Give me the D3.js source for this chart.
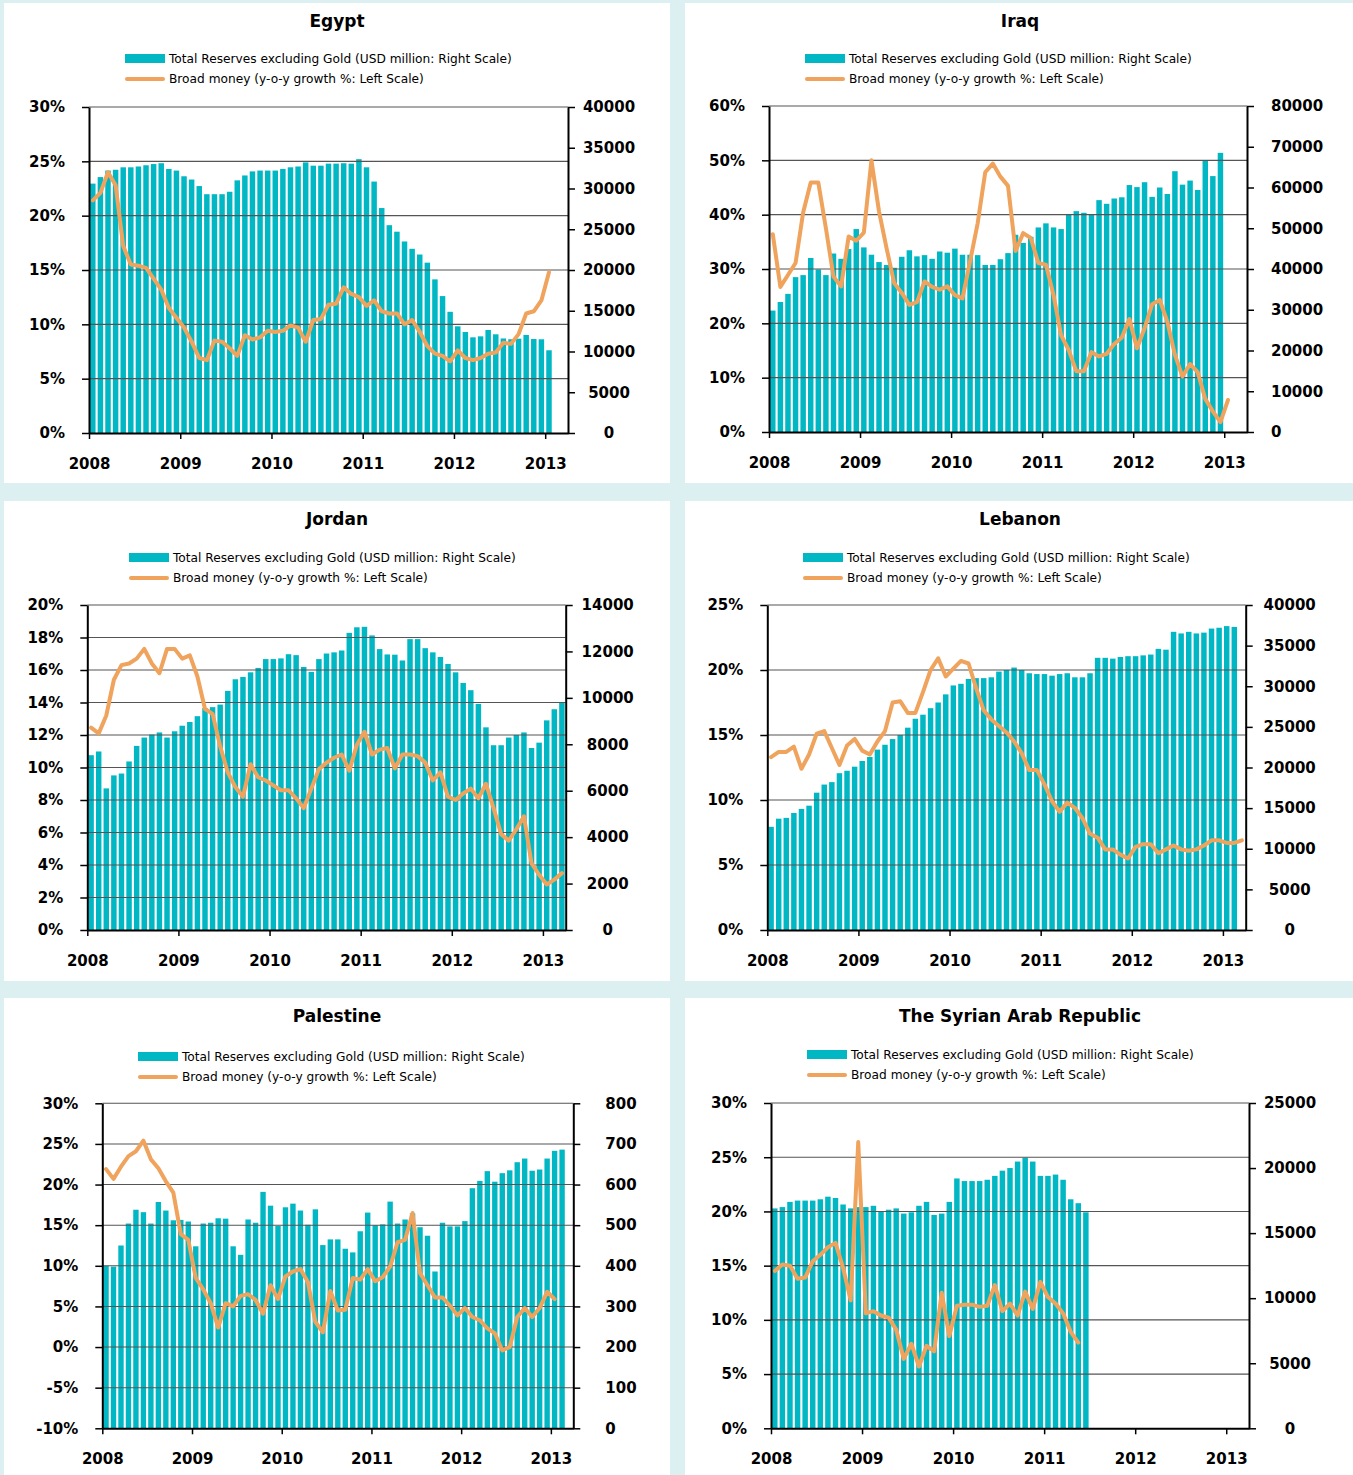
<!DOCTYPE html>
<html>
<head>
<meta charset="utf-8">
<script src="https://cdn.jsdelivr.net/npm/d3@7"></script>
<style>
  body { margin: 0; background: #dcf0f2; }
  svg { display: block; }
  text { font-family: "DejaVu Sans", sans-serif; fill: #000; }
  .title { font-size: 17px; font-weight: bold; }
  .leg { font-size: 12.2px; }
  .axis text { font-size: 15px; font-weight: bold; fill: #000; }
  .axis path { stroke: #000; stroke-width: 2; }
  .axis line { stroke: #000; stroke-width: 1.5; }
</style>
</head>
<body>
<script>
// Dataset (monthly, Jan 2008 onwards)
var years = ['2008', '2009', '2010', '2011', '2012', '2013'];
var countries = ['Egypt', 'Iraq', 'Jordan', 'Lebanon', 'Palestine', 'The Syrian Arab Republic'];
var legendNames = ['Total Reserves excluding Gold (USD million: Right Scale)', 'Broad money (y-o-y growth %: Left Scale)'];

var egyptReserves = [30600,31400,32200,32300,32600,32600,32700,32850,33000,33100,32400,32200,
  31500,31100,30300,29300,29300,29300,29600,31000,31600,32100,32200,32200,
  32200,32400,32600,32700,33200,32800,32800,33050,33050,33100,33050,33600,
  32600,30850,27600,25500,24700,23500,22600,21900,20900,18850,16800,14870,
  13090,12390,11740,11860,12640,12110,11600,11500,11570,12030,11530,11500,
  10150];
var egyptMoney = [21.4,22.1,24.0,22.8,17.2,15.5,15.4,15.2,14.2,13.2,11.5,10.6,
  9.7,8.4,6.9,6.7,8.5,8.4,7.8,7.1,9.0,8.6,8.8,9.4,
  9.3,9.4,9.9,9.7,8.4,10.4,10.5,11.8,11.9,13.4,12.8,12.5,
  11.7,12.2,11.2,11.0,11.0,10.0,10.4,9.3,8.0,7.3,7.1,6.6,
  7.6,6.9,6.7,6.9,7.3,7.4,8.3,8.2,9.1,11.0,11.2,12.2,
  14.8];

var iraqReserves = [29800,31900,33900,38000,38500,42700,39900,38500,43800,42500,44900,49800,
  45300,43500,41700,41000,40300,43000,44600,43100,43400,42500,44300,44000,
  45000,43500,43500,43400,41000,41000,42400,43900,48400,46400,47900,50200,
  51200,50200,49800,53500,54200,53800,53300,56900,56000,57300,57600,60600,
  60100,61300,57700,60000,58400,64000,60700,61700,59400,66600,62800,68500];
var iraqMoney = [36.4,26.7,28.9,31.1,40.4,45.9,45.9,37.5,28.6,26.8,36.0,35.2,
  36.7,50.0,40.6,33.8,27.4,25.6,23.4,23.9,27.7,26.7,26.2,26.8,
  25.2,24.6,31.4,38.4,47.8,49.4,47.0,45.3,33.3,36.6,35.7,31.1,
  30.8,25.2,17.8,15.1,11.2,11.2,14.7,13.9,14.4,16.2,17.4,20.8,
  15.4,19.1,23.5,24.3,20.3,14.2,10.2,12.5,11.0,6.1,3.8,1.8,
  5.9];

var jordanReserves = [7530,7690,6100,6660,6740,7260,7930,8290,8420,8510,8290,8560,
  8800,8960,9210,9560,9600,9710,10300,10800,10900,11100,11290,11670,
  11670,11700,11880,11840,11330,11120,11670,11910,11960,12040,12800,13040,
  13060,12690,12100,11870,11860,11610,12530,12530,12140,11960,11760,11460,
  11100,10640,10330,9740,8730,7960,7960,8290,8400,8510,7840,8070,
  9030,9510,9810];
var jordanMoney = [12.45,12.1,13.2,15.4,16.3,16.4,16.7,17.3,16.4,15.8,17.3,17.3,
  16.7,16.9,15.6,13.6,13.3,11.3,9.7,8.8,8.2,10.2,9.4,9.2,
  8.9,8.6,8.6,8.1,7.5,8.7,9.9,10.3,10.6,10.8,9.8,11.4,
  12.2,10.8,11.1,11.2,9.95,10.8,10.8,10.7,10.3,9.2,9.7,8.2,
  8.0,8.4,8.7,8.1,9.0,7.5,5.9,5.5,6.2,7.0,4.1,3.4,
  2.8,3.1,3.5];

var lebanonReserves = [12700,13700,13800,14400,14900,15300,16900,17900,18200,19300,19600,20100,
  20800,21300,22200,22800,23500,24000,24900,26000,26500,27300,28000,29000,
  30100,30300,30900,31000,31000,31100,31800,32000,32300,32000,31600,31500,
  31500,31300,31500,31600,31100,31100,31600,33500,33500,33400,33600,33700,
  33700,33800,33900,34600,34500,36700,36500,36700,36500,36600,37100,37200,
  37400,37300];
var lebanonMoney = [13.3,13.7,13.7,14.1,12.4,13.5,15.1,15.3,14.0,12.7,14.2,14.7,
  13.8,13.5,14.5,15.3,17.5,17.6,16.7,16.7,18.3,20.0,20.9,19.5,
  20.1,20.7,20.5,18.6,16.9,16.2,15.7,15.2,14.5,13.6,12.3,12.3,
  11.2,9.9,9.1,9.8,9.4,8.6,7.4,7.1,6.2,6.2,5.8,5.5,
  6.4,6.6,6.6,5.9,6.2,6.5,6.2,6.1,6.2,6.5,6.9,6.9,
  6.7,6.7,6.9];

var palestineReserves = [400,398,450,504,538,532,504,557,536,512,513,509,
  448,504,506,517,516,448,427,514,506,582,548,498,
  544,553,536,501,539,451,465,465,442,433,485,531,
  500,502,558,504,514,529,495,474,386,506,497,497,
  510,591,609,633,607,628,635,655,664,634,637,664,
  683,686];
var palestineMoney = [21.9,20.7,22.2,23.5,24.1,25.4,23.1,22.0,20.4,19.0,13.9,13.2,
  8.5,7.1,5.4,2.4,5.4,5.0,6.3,6.5,5.8,4.1,7.6,5.9,
  8.7,9.3,9.6,8.0,3.1,1.8,6.9,4.5,4.6,8.5,8.3,9.6,
  8.1,8.6,9.9,12.9,13.2,16.5,9.1,7.6,6.1,6.1,5.1,3.9,
  4.8,3.7,3.3,2.3,1.7,-0.4,0.0,3.7,4.8,3.7,4.8,6.8,
  5.9];

var syriaReserves = [16900,17000,17400,17500,17500,17500,17600,17800,17700,17200,16900,17000,
  17000,17100,16700,16800,16900,16500,16600,17100,17400,16400,16500,17400,
  19200,19000,19000,19000,19100,19400,19800,20000,20500,20800,20500,19400,
  19400,19500,19100,17600,17300,16600];
var syriaMoney = [14.5,15.1,15.0,13.8,13.9,15.4,16.0,16.7,17.1,14.8,11.8,26.4,
  10.6,10.8,10.4,10.2,9.1,6.4,7.8,5.7,7.6,7.1,12.5,8.5,
  11.3,11.4,11.4,11.2,11.3,13.2,10.8,11.5,10.4,12.6,11.0,13.5,
  12.1,11.5,10.6,8.9,7.9];

// Axis ranges [min, max, step]
var pctScales = [[0, 30, 5], [0, 60, 10], [0, 20, 2], [0, 25, 5], [-10, 30, 5], [0, 30, 5]];
var usdScales = [[0, 40000, 5000], [0, 80000, 10000], [0, 14000, 2000], [0, 40000, 5000], [0, 800, 100], [0, 25000, 5000]];

var reserves = [egyptReserves, iraqReserves, jordanReserves, lebanonReserves, palestineReserves, syriaReserves];
var money = [egyptMoney, iraqMoney, jordanMoney, lebanonMoney, palestineMoney, syriaMoney];

var monthSlots = 63; // Jan 2008 - Mar 2013 on the x axis
var BAR = '#00b7c3', LINE = '#efa35c';

// Layout of each panel: box, plot area (panel coords), legend origin, right label placement
var layout = [
  {x: 4,   y: 3,   w: 666, h: 480, plot: [85, 104, 564, 430],   legend: [121, 55.5], rAnchor: 'middle', rOff: 41},
  {x: 685, y: 3,   w: 670, h: 480, plot: [84, 103, 562, 429],   legend: [120, 55.5], rAnchor: 'start',  rOff: 24},
  {x: 4,   y: 501, w: 666, h: 480, plot: [83.3, 104, 561.7, 429], legend: [125, 56.5], rAnchor: 'middle', rOff: 42},
  {x: 685, y: 501, w: 670, h: 480, plot: [82.3, 104, 560.7, 429], legend: [118, 56.5], rAnchor: 'middle', rOff: 44},
  {x: 4,   y: 998, w: 666, h: 480, plot: [98.3, 105.3, 569.3, 430.3], legend: [134, 58.5], rAnchor: 'start', rOff: 32},
  {x: 685, y: 998, w: 670, h: 480, plot: [86, 105, 564, 430.3], legend: [122, 56.5], rAnchor: 'middle', rOff: 41}
];

var svg = d3.select('body').append('svg')
  .attr('width', 1353)
  .attr('height', 1475);

svg.append('rect').attr('width', 1353).attr('height', 1475).attr('fill', '#dcf0f2');

function drawPanel(k) {
  var p = layout[k];
  var g = svg.append('g').attr('transform', 'translate(' + p.x + ',' + p.y + ')');
  g.append('rect').attr('width', p.w).attr('height', p.h).attr('fill', '#fff');

  g.append('text').attr('class', 'title')
    .attr('x', p.w / 2).attr('y', 24)
    .attr('text-anchor', 'middle')
    .text(countries[k]);

  // Legend
  var lg = g.append('g').attr('transform', 'translate(' + p.legend[0] + ',' + p.legend[1] + ')');
  lg.append('rect').attr('x', 0).attr('y', -4.5).attr('width', 40).attr('height', 9).attr('fill', BAR);
  lg.append('text').attr('class', 'leg').attr('x', 44).attr('y', 4.4).text(legendNames[0]);
  lg.append('line').attr('x1', 2).attr('x2', 38).attr('y1', 20.5).attr('y2', 20.5)
    .attr('stroke', LINE).attr('stroke-width', 4).attr('stroke-linecap', 'round');
  lg.append('text').attr('class', 'leg').attr('x', 44).attr('y', 24.9).text(legendNames[1]);

  var L = p.plot[0], T = p.plot[1], R = p.plot[2], B = p.plot[3];
  var pct = pctScales[k], usd = usdScales[k];

  var x = d3.scaleLinear().domain([0, monthSlots]).range([L, R]);
  var yL = d3.scaleLinear().domain([pct[0], pct[1]]).range([B, T]);
  var yR = d3.scaleLinear().domain([usd[0], usd[1]]).range([B, T]);

  var pctTicks = d3.range(pct[0], pct[1] + pct[2] / 2, pct[2]);
  var usdTicks = d3.range(usd[0], usd[1] + usd[2] / 2, usd[2]);

  // Bars
  var bw = (x(1) - x(0)) * 0.72;
  g.append('g').selectAll('rect')
    .data(reserves[k])
    .enter()
    .append('rect')
    .attr('x', function (d, i) { return x(i + 0.5) - bw / 2; })
    .attr('y', function (d) { return yR(d); })
    .attr('width', bw)
    .attr('height', function (d) { return B - yR(d); })
    .attr('fill', BAR);

  // Gridlines (on left scale)
  g.append('g').selectAll('line')
    .data(pctTicks.slice(1))
    .enter()
    .append('line')
    .attr('x1', L).attr('x2', R)
    .attr('y1', function (d) { return yL(d); })
    .attr('y2', function (d) { return yL(d); })
    .attr('stroke', '#555')
    .attr('stroke-width', 1.1);

  // Broad money line
  var line = d3.line()
    .x(function (d, i) { return x(i + 0.5); })
    .y(function (d) { return yL(d); });
  g.append('path').datum(money[k])
    .attr('d', line)
    .attr('fill', 'none')
    .attr('stroke', LINE)
    .attr('stroke-width', 4)
    .attr('stroke-linejoin', 'round')
    .attr('stroke-linecap', 'round');

  // Axes
  g.append('g').attr('class', 'axis')
    .attr('transform', 'translate(' + L + ',0)')
    .call(d3.axisLeft(yL).tickValues(pctTicks).tickSize(7).tickSizeOuter(0).tickPadding(17)
      .tickFormat(function (d) { return d + '%'; }));

  var ra = g.append('g').attr('class', 'axis')
    .attr('transform', 'translate(' + R + ',0)')
    .call(d3.axisRight(yR).tickValues(usdTicks).tickSize(7).tickSizeOuter(0)
      .tickFormat(d3.format('d')));
  ra.selectAll('text').attr('text-anchor', p.rAnchor).attr('x', p.rOff);

  g.append('g').attr('class', 'axis')
    .attr('transform', 'translate(0,' + B + ')')
    .call(d3.axisBottom(x).tickValues(d3.range(0, 61, 12)).tickSize(6).tickSizeOuter(0).tickPadding(19)
      .tickFormat(function (d, i) { return years[i]; }));
}

countries.forEach(function (c, k) { drawPanel(k); });
</script>
</body>
</html>
